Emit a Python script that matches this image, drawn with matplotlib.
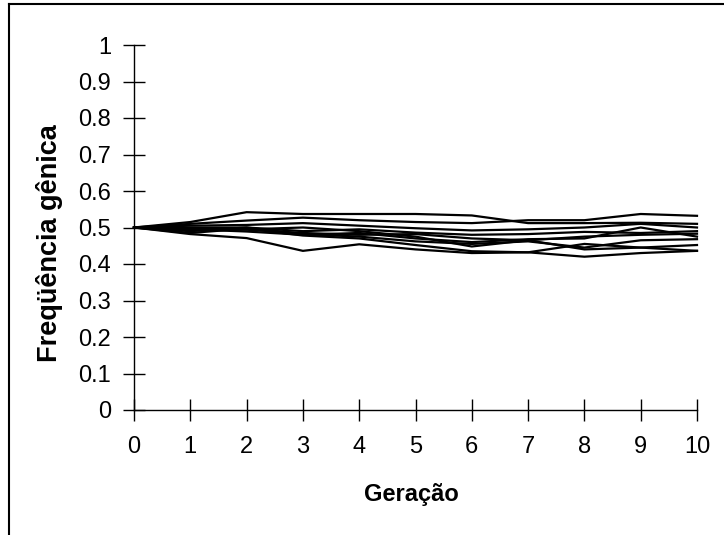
import matplotlib
matplotlib.use("Agg")
import matplotlib.pyplot as plt
from matplotlib.lines import Line2D

plt.rcParams['font.family'] = ['Liberation Sans', 'DejaVu Sans']

geracoes = list(range(11))
x_tick_labels = [str(g) for g in geracoes]
y_ticks = [0, 0.1, 0.2, 0.3, 0.4, 0.5, 0.6, 0.7, 0.8, 0.9, 1]
y_tick_labels = ['0', '0.1', '0.2', '0.3', '0.4', '0.5', '0.6', '0.7', '0.8', '0.9', '1']

serie_a = [0.5, 0.515, 0.542, 0.537, 0.537, 0.537, 0.533, 0.512, 0.512, 0.513, 0.510]
serie_b = [0.5, 0.510, 0.519, 0.527, 0.520, 0.515, 0.512, 0.520, 0.520, 0.537, 0.532]
serie_c = [0.5, 0.505, 0.507, 0.512, 0.505, 0.498, 0.492, 0.495, 0.500, 0.510, 0.500]
serie_d = [0.5, 0.500, 0.500, 0.490, 0.495, 0.486, 0.480, 0.482, 0.488, 0.485, 0.490]
serie_e = [0.5, 0.498, 0.494, 0.485, 0.480, 0.482, 0.470, 0.465, 0.475, 0.480, 0.483]
serie_f = [0.5, 0.495, 0.489, 0.480, 0.485, 0.470, 0.460, 0.468, 0.470, 0.500, 0.475]
serie_g = [0.5, 0.490, 0.500, 0.482, 0.475, 0.462, 0.455, 0.462, 0.445, 0.465, 0.468]
serie_h = [0.5, 0.485, 0.497, 0.478, 0.470, 0.452, 0.435, 0.432, 0.455, 0.445, 0.452]
serie_i = [0.5, 0.482, 0.471, 0.436, 0.454, 0.440, 0.430, 0.432, 0.420, 0.430, 0.436]
serie_j = [0.5, 0.492, 0.495, 0.500, 0.490, 0.475, 0.448, 0.465, 0.440, 0.445, 0.436]

series = [serie_a, serie_b, serie_c, serie_d, serie_e,
          serie_f, serie_g, serie_h, serie_i, serie_j]

W, H = 724, 535
fig = plt.figure(figsize=(W / 100, H / 100), dpi=100)

left, right, top, bottom = 134, 697, 45, 410
ax = fig.add_axes([left / W, 1 - bottom / H, (right - left) / W, (bottom - top) / H])

for s in series:
    ax.plot(geracoes, s, color='black', linewidth=1.6, clip_on=False)

ax.set_xlim(0, 10)
ax.set_ylim(0, 1)
ax.set_xticks(geracoes)
ax.set_xticklabels(x_tick_labels)
ax.set_yticks(y_ticks)
ax.set_yticklabels(y_tick_labels)

for side in ['top', 'right']:
    ax.spines[side].set_visible(False)
for side in ['left', 'bottom']:
    ax.spines[side].set_linewidth(1.0)
    ax.spines[side].set_color('black')

ax.tick_params(axis='both', direction='inout', length=16, width=1.0,
               labelsize=17, colors='black')
ax.tick_params(axis='x', pad=10.5)
ax.tick_params(axis='y', pad=8.5)

fig.text(411 / W, 1 - 495 / H, 'Geração', ha='center', va='center',
         fontsize=17, fontweight='bold')
fig.text(50 / W, 1 - 243 / H, 'Freqüência gênica', ha='center', va='center',
         rotation=90, fontsize=19.5, fontweight='bold')

# outer frame (left and top edges visible)
fig.add_artist(Line2D([9 / W, 9 / W], [0, 1 - 4 / H], transform=fig.transFigure,
                      color='black', linewidth=1.5))
fig.add_artist(Line2D([9 / W, 1], [1 - 4 / H, 1 - 4 / H], transform=fig.transFigure,
                      color='black', linewidth=1.5))

fig.savefig('out.png', dpi=100)
